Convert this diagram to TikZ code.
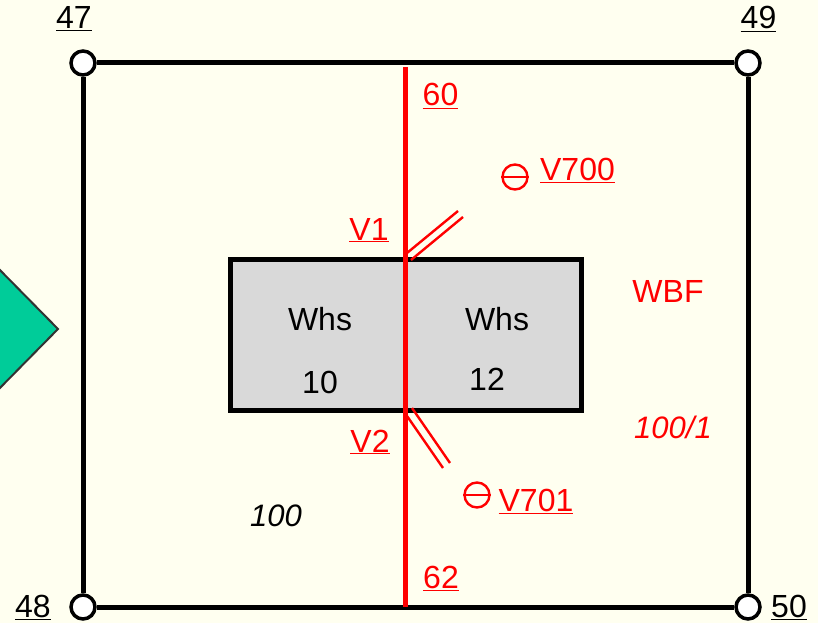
\documentclass[tikz,border=0pt]{standalone}
\usepackage{fontspec}
\setmainfont{Liberation Sans}
\usetikzlibrary{calc}
\definecolor{paper}{HTML}{FFFFF0}
\definecolor{boxgray}{HTML}{D9D9D9}
\definecolor{tipgreen}{HTML}{00CC99}
\newcommand{\ulabel}[1]{\underline{#1}}

\begin{document}
\begin{tikzpicture}[x=1pt,y=-1pt]
% define styles
\tikzset{terminal/.style={circle,
                       draw=black,
                       fill=white,
                       line width=3.5pt,
                       inner sep=0,
                       minimum size=24pt,
                       },
         wire/.style={draw=black, line width=5pt},
         redwire/.style={draw=red, line width=5pt},
         stub/.style={draw=red, line width=2.4pt},
         txt/.style={inner sep=0, anchor=base, font=\fontsize{32}{36}\selectfont},
         redtxt/.style={txt, text=red},
         ittxt/.style={txt, font=\fontsize{31}{36}\selectfont\itshape},
         valve/.style={circle, draw=red, line width=2.4pt, inner sep=0, minimum size=25pt},
}

% background
\useasboundingbox (0,0) rectangle (818,623);
\fill[paper] (0,0) rectangle (818,623);

% green tip
\path[draw=black!80, fill=tipgreen, line width=2pt, miter limit=4.00]
    (-6,264) -- (58,329) -- (-6,394);

% nodes
\node[terminal] (t47) at (83,63)   {};
\node[terminal] (t49) at (748,63)  {};
\node[terminal] (t48) at (83,607)  {};
\node[terminal] (t50) at (748,607) {};

% frame
\draw[wire] (t47) -- (t49);
\draw[wire] (t49) -- (t50);
\draw[wire] (t50) -- (t48);
\draw[wire] (t48) -- (t47);

% box in the middle
\node[draw=black, fill=boxgray, line width=5pt, inner sep=0,
      minimum width=351pt, minimum height=151pt] (whs) at (406,334.5) {};

% red line and the two stubs
\coordinate (top) at (405.5,67);
\coordinate (bot) at (405.5,607);
\coordinate (s1a) at (407,253);
\coordinate (s1b) at (458,211);
\coordinate (s2a) at (411,260);
\coordinate (s2b) at (463,217);
\coordinate (s3a) at (407,416);
\coordinate (s3b) at (443,468);
\coordinate (s4a) at (412,408);
\coordinate (s4b) at (450,463);
\draw[redwire] (top) -- (bot);
\draw[stub] (s1a) -- (s1b);
\draw[stub] (s2a) -- (s2b);
\draw[stub] (s3a) -- (s3b);
\draw[stub] (s4a) -- (s4b);

% valves
\node[valve] (v700) at (515,177) {};
\node[valve] (v701) at (477,495) {};
\draw[stub] (v700.west) -- (v700.east);
\draw[stub] (v701.west) -- (v701.east);

% labels
\node[txt] (l47) at (74,29)   {\ulabel{47}};
\node[txt] (l49) at (758.5,29)  {\ulabel{49}};
\node[txt] (l48) at (33,617)  {\ulabel{48}};
\node[txt] (l50) at (789,617) {\ulabel{50}};
\node[redtxt] (l60) at (440.5,106) {\ulabel{60}};
\node[redtxt] (l62) at (441,588) {\ulabel{62}};
\node[redtxt] (lv1) at (369,240) {\ulabel{V1}};
\node[redtxt] (lv2) at (370,452) {\ulabel{V2}};
\node[redtxt] (lv700) at (577.5,180) {\ulabel{V700}};
\node[redtxt] (lv701) at (536,511) {\ulabel{V701}};
\node[redtxt] (lwbf) at (668,302) {WBF};
\node[ittxt, text=red] (lwbfn) at (673,438) {100/1};
\node[ittxt] (lhund) at (276,526) {100};
\node[txt] (lwa) at (320,330) {Whs};
\node[txt] (lwb) at (497,330) {Whs};
\node[txt] (lna) at (320,393) {10};
\node[txt] (lnb) at (487,390) {12};
\end{tikzpicture}
\end{document}
